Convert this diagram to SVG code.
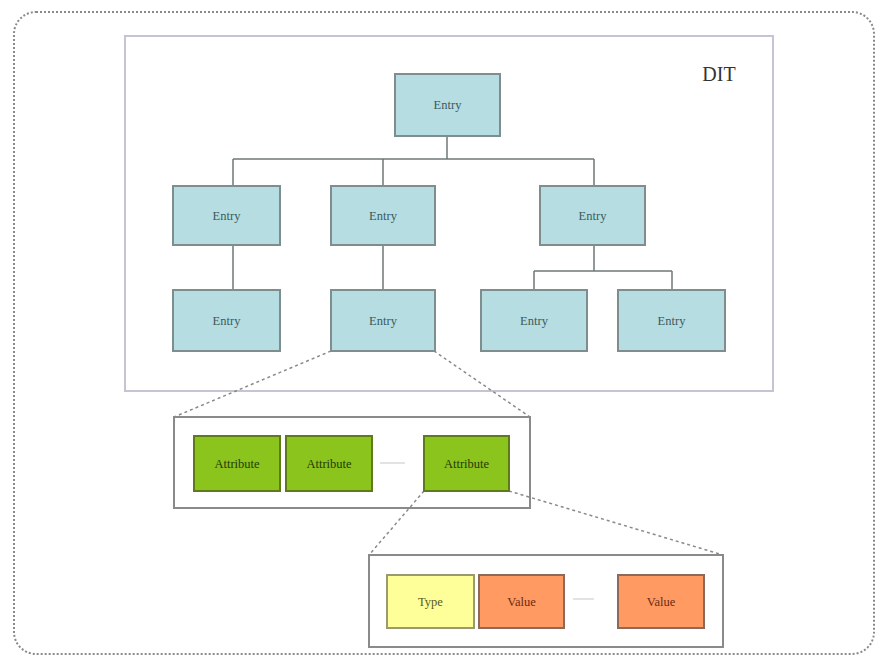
<svg xmlns="http://www.w3.org/2000/svg" width="876" height="664" viewBox="0 0 876 664">
  <style>
    .frame { fill: none; stroke: #8a8a8a; stroke-width: 2; stroke-dasharray: 2 2; }
    .dit { fill: #ffffff; stroke: #c4c4d2; stroke-width: 2; }
    .box { fill: #ffffff; stroke: #8a8a8a; stroke-width: 2; }
    .entry rect { fill: #b6dde2; stroke: #7e8e8e; stroke-width: 2; }
    .entry text { fill: #3c5a5c; }
    .attr rect { fill: #8ac41c; stroke: #5e7a1c; stroke-width: 2; }
    .attr text { fill: #28380a; }
    .type rect { fill: #ffff9a; stroke: #9a9a70; stroke-width: 2; }
    .type text { fill: #5a5a1a; }
    .value rect { fill: #ff9a62; stroke: #8a6a5a; stroke-width: 2; }
    .value text { fill: #6a2a10; }
    text { font-family: "Liberation Serif", "DejaVu Serif", serif; font-size: 12.5px; text-anchor: middle; dominant-baseline: central; }
    .tree { fill: none; stroke: #6e7878; stroke-width: 1.5; }
    .zoomline { fill: none; stroke: #8a8a8a; stroke-width: 1.5; stroke-dasharray: 3 3; }
    .gap { fill: none; stroke: #c8c8c8; stroke-width: 1; }
  </style>

  <!-- outer dotted frame -->
  <rect class="frame" x="14" y="12" width="860" height="642" rx="22" ry="22"/>

  <!-- directory information tree container -->
  <g id="dit">
    <rect class="dit" x="125" y="36" width="648" height="355"/>
    <text x="719" y="74" style="font-size:20px; fill:#333">DIT</text>
  </g>

  <!-- detail containers -->
  <g id="attribute-set">
    <rect class="box" x="174" y="417" width="356" height="91"/>
  </g>
  <g id="value-set">
    <rect class="box" x="369" y="555" width="354" height="92"/>
  </g>

  <!-- connectors -->
  <g id="connectors">
    <path class="tree" d="M447 136 V159 M233 159 H594 M233 159 V186 M383 159 V186 M594 159 V186"/>
    <path class="tree" d="M233 245 V290 M383 245 V290"/>
    <path class="tree" d="M594 245 V271 M534 271 H672 M534 271 V290 M672 271 V290"/>
    <path class="zoomline" d="M331 351 L174 417 M434 351 L530 417"/>
    <path class="zoomline" d="M424 491 L369 555 M509 491 L723 555"/>
    <path class="gap" d="M380 463 H405"/>
    <path class="gap" d="M573 599 H594"/>
  </g>

  <!-- tree entries -->
  <g id="entry-root" class="entry"><rect x="395" y="74" width="105" height="62"/><text x="447.5" y="105">Entry</text></g>
  <g id="entry-a" class="entry"><rect x="173" y="186" width="107" height="59"/><text x="226.5" y="215.5">Entry</text></g>
  <g id="entry-b" class="entry"><rect x="331" y="186" width="104" height="59"/><text x="383" y="215.5">Entry</text></g>
  <g id="entry-c" class="entry"><rect x="540" y="186" width="105" height="59"/><text x="592.5" y="215.5">Entry</text></g>
  <g id="entry-a1" class="entry"><rect x="173" y="290" width="107" height="61"/><text x="226.5" y="320.5">Entry</text></g>
  <g id="entry-b1" class="entry"><rect x="331" y="290" width="104" height="61"/><text x="383" y="320.5">Entry</text></g>
  <g id="entry-c1" class="entry"><rect x="481" y="290" width="106" height="61"/><text x="534" y="320.5">Entry</text></g>
  <g id="entry-c2" class="entry"><rect x="618" y="290" width="107" height="61"/><text x="671.5" y="320.5">Entry</text></g>

  <!-- attributes -->
  <g id="attr-1" class="attr"><rect x="194" y="436" width="86" height="55"/><text x="237" y="463.5">Attribute</text></g>
  <g id="attr-2" class="attr"><rect x="286" y="436" width="86" height="55"/><text x="329" y="463.5">Attribute</text></g>
  <g id="attr-3" class="attr"><rect x="424" y="436" width="85" height="55"/><text x="466.5" y="463.5">Attribute</text></g>

  <!-- type and values -->
  <g id="type" class="type"><rect x="387" y="575" width="87" height="53"/><text x="430.5" y="601.5">Type</text></g>
  <g id="value-1" class="value"><rect x="479" y="575" width="85" height="53"/><text x="521.5" y="601.5">Value</text></g>
  <g id="value-2" class="value"><rect x="618" y="575" width="86" height="53"/><text x="661" y="601.5">Value</text></g>
</svg>
